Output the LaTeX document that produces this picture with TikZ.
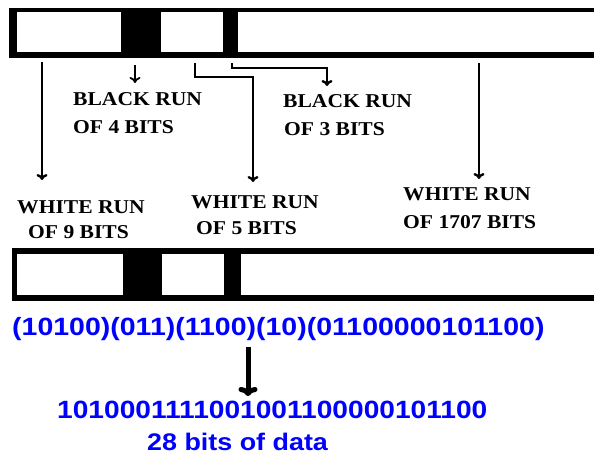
\documentclass[tikz,border=0pt]{standalone}
\usepackage{fontspec}
\setmainfont{Liberation Serif}
\newfontfamily\bluefont{Liberation Sans}
\usetikzlibrary{arrows.meta}
\newcommand\hsq[2]{\scalebox{#1}[1]{#2}}
\tikzset{
  lbl/.style={font=\bfseries\fontsize{19.6}{20}\selectfont, text=black, inner sep=0pt, anchor=base west},
  bits/.style={font=\bluefont\bfseries\fontsize{25}{25}\selectfont, text=blue, inner sep=0pt, anchor=base west},
  note/.style={font=\bluefont\bfseries\fontsize{24}{24}\selectfont, text=blue, inner sep=0pt, anchor=base west},
  runarrow/.style={line width=2.4pt, -{Computer Modern Rightarrow[length=6pt,width=11pt]}},
  smallarrow/.style={line width=1.8pt, -{Computer Modern Rightarrow[length=6pt,width=11pt]}},
  bigarrow/.style={line width=5pt, -{Computer Modern Rightarrow[length=9pt,width=19pt]}},
  barblack/.style={fill=black},
  barwhite/.style={fill=white}
}
\begin{document}
\begin{tikzpicture}[x=1pt,y=-1pt]
\useasboundingbox (0,0) rectangle (594,459);
\clip (0,0) rectangle (594,459);
\fill[white] (0,0) rectangle (594,459);
% top bar
\fill[barblack] (9,8) rectangle (600,58);
\fill[barwhite] (16.5,12) rectangle (120.5,52);
\fill[barwhite] (160.5,12) rectangle (222.5,52);
\fill[barwhite] (238,12) rectangle (600,52);
% bottom bar
\fill[barblack] (12,248) rectangle (600,301);
\fill[barwhite] (17,254) rectangle (123,295);
\fill[barwhite] (162,254) rectangle (224,295);
\fill[barwhite] (241,254) rectangle (600,295);
% labels
\node[lbl] (b4a) at (73,105) {\hsq{1.1}{BLACK RUN}};
\node[lbl] (b4b) at (73,133) {\hsq{1.1}{OF 4 BITS}};
\node[lbl] (b3a) at (283,107) {\hsq{1.1}{BLACK RUN}};
\node[lbl] (b3b) at (284,135) {\hsq{1.1}{OF 3 BITS}};
\node[lbl] (w9a) at (17,213) {\hsq{1.1}{WHITE RUN}};
\node[lbl] (w9b) at (28,238) {\hsq{1.1}{OF 9 BITS}};
\node[lbl] (w5a) at (191,208) {\hsq{1.1}{WHITE RUN}};
\node[lbl] (w5b) at (196,234) {\hsq{1.1}{OF 5 BITS}};
\node[lbl] (w17a) at (403,200) {\hsq{1.1}{WHITE RUN}};
\node[lbl] (w17b) at (403,228) {\hsq{1.1}{OF 1707 BITS}};
% connector end points
\coordinate (s9) at (42,62);   \coordinate (t9) at (42,180);
\coordinate (s4) at (135,65);  \coordinate (t4) at (135,83);
\coordinate (s5) at (195,63);  \coordinate (t5) at (253,182);
\coordinate (s3) at (232,63);  \coordinate (t3) at (327,86);
\coordinate (s17) at (479,63); \coordinate (t17) at (479,179);
% arrows
\draw[runarrow] (s9) -- (t9);
\draw[smallarrow] (s4) -- (t4);
\draw[runarrow] (s5) -- (195,77) -- (253,77) -- (t5);
\draw[runarrow] (s3) -- (232,68) -- (327,68) -- (t3);
\draw[runarrow] (s17) -- (t17);
% codes
\node[bits] (runs) at (12,335) {\hsq{1.14}{(10100)(011)(1100)(10)(01100000101100)}};
\node[bits] (code) at (57,418) {\hsq{1.125}{1010001111001001100000101100}};
\node[note] (cnt) at (147,450) {\hsq{1.12}{28 bits of data}};
\coordinate (c1) at (248,347);
\coordinate (c2) at (248,396);
\draw[bigarrow] (c1) -- (c2);
\end{tikzpicture}
\end{document}
